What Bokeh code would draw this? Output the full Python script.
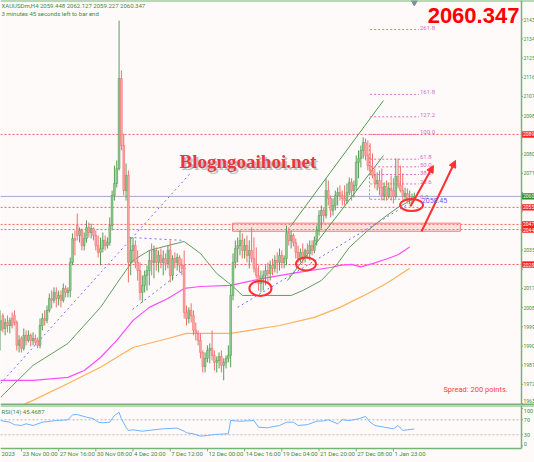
from bokeh.plotting import figure
from bokeh.layouts import column
from bokeh.models import (ColumnDataSource, Span, Label, LabelSet, Range1d, Arrow,
                          NormalHead)
from bokeh.core.properties import value
from bokeh.embed import file_html
from bokeh.resources import INLINE

# ---------------- XAUUSDm H4 candles (bar index 0 .. 178) ----------------
opens = [
    1997.5, 2004.5, 1998.4, 2001.2, 1999.8, 2003.1, 2004.5, 2001.2, 1990.5, 1993.7,
    1989.1, 1995.2, 1992.8, 1995.2, 1992.8, 1993.7, 1992.8, 1990.5, 1999.8, 2003.1,
    2002.2, 2006.9, 2012.5, 2011.6, 2015.3, 2012.5, 2013.9, 2011.6, 2017.2, 2015.3,
    2016.2, 2029.4, 2040.6, 2046.7, 2042.0, 2044.4, 2037.3, 2040.6, 2045.8, 2043.4,
    2045.3, 2042.0, 2037.3, 2034.1, 2035.9, 2039.7, 2037.3, 2038.7, 2046.7, 2060.8,
    2066.4, 2073.4, 2115.6, 2084.2, 2063.1, 2070.2, 2029.4, 2035.0, 2037.3, 2029.4,
    2025.6, 2015.3, 2018.6, 2023.3, 2025.6, 2030.3, 2029.4, 2035.0, 2029.4, 2032.7,
    2029.4, 2031.2, 2028.9, 2035.0, 2023.3, 2031.2, 2029.4, 2031.7, 2028.0, 2028.0,
    2005.9, 2003.1, 2006.9, 2004.5, 1997.5, 1996.1, 1992.8, 1987.2, 1980.6, 1984.4,
    1988.1, 1989.1, 1985.8, 1982.5, 1983.4, 1985.3, 1981.1, 1982.5, 1984.4, 1985.8,
    2013.9, 2029.4, 2035.9, 2037.3, 2039.7, 2035.0, 2037.3, 2032.7, 2035.0, 2031.2,
    2026.6, 2023.3, 2019.5, 2021.9, 2023.3, 2025.6, 2024.2, 2028.0, 2026.6, 2030.3,
    2029.4, 2032.7, 2029.4, 2031.2, 2043.4, 2039.7, 2042.0, 2038.7, 2034.1, 2031.2,
    2034.1, 2032.2, 2035.0, 2033.6, 2037.3, 2035.0, 2039.7, 2044.4, 2051.4, 2053.8,
    2051.4, 2063.1, 2059.4, 2053.8, 2056.1, 2060.8, 2062.2, 2060.8, 2059.4, 2058.4,
    2062.2, 2066.9, 2063.1, 2065.5, 2076.3, 2078.1, 2081.9, 2085.6, 2079.5, 2074.8,
    2072.5, 2070.2, 2066.4, 2067.8, 2064.5, 2060.8, 2065.0, 2060.3, 2064.1, 2063.1,
    2060.3, 2069.7, 2065.5, 2063.1, 2060.3, 2061.7, 2058.4, 2059.4, 2059.448,
]
highs = [
    2006.9, 2005.5, 2003.1, 2004.5, 2003.6, 2005.9, 2006.9, 2002.2, 1995.2, 1994.7,
    1998.4, 1997.5, 1997.5, 1996.1, 1996.6, 1995.6, 1994.2, 2003.1, 2005.5, 2006.9,
    2009.2, 2014.8, 2016.2, 2017.7, 2017.7, 2016.2, 2016.2, 2019.5, 2018.6, 2017.7,
    2031.7, 2043.0, 2044.4, 2052.3, 2045.8, 2045.3, 2043.4, 2049.1, 2048.1, 2047.6,
    2045.8, 2044.4, 2042.0, 2041.1, 2043.4, 2042.0, 2041.1, 2050.5, 2063.1, 2074.8,
    2077.2, 2142.8, 2119.4, 2089.8, 2075.8, 2072.5, 2041.1, 2041.1, 2039.7, 2035.0,
    2029.4, 2023.3, 2025.6, 2028.0, 2035.0, 2038.3, 2037.3, 2036.4, 2035.0, 2035.9,
    2035.0, 2033.6, 2037.3, 2039.7, 2032.7, 2034.1, 2033.6, 2032.7, 2031.2, 2035.0,
    2009.2, 2008.3, 2010.2, 2006.9, 2001.2, 1997.5, 1996.1, 1988.1, 1987.2, 1990.5,
    1991.4, 1997.5, 1988.1, 1985.3, 1987.2, 1988.1, 1984.4, 1985.8, 1990.5, 2018.6,
    2033.6, 2039.7, 2041.1, 2044.4, 2043.0, 2040.6, 2042.0, 2039.7, 2045.8, 2041.1,
    2036.4, 2028.0, 2025.6, 2025.6, 2028.0, 2029.4, 2030.3, 2031.2, 2032.7, 2034.1,
    2035.9, 2035.0, 2032.7, 2046.7, 2045.8, 2044.4, 2043.0, 2040.6, 2037.3, 2035.9,
    2038.3, 2035.9, 2038.3, 2039.7, 2039.7, 2041.6, 2046.7, 2053.8, 2056.1, 2055.2,
    2068.8, 2067.8, 2060.8, 2059.4, 2063.1, 2064.5, 2065.5, 2063.1, 2065.5, 2066.4,
    2069.2, 2068.8, 2067.8, 2079.5, 2081.9, 2084.2, 2088.0, 2087.5, 2086.6, 2085.2,
    2080.5, 2073.4, 2071.6, 2072.5, 2073.4, 2066.9, 2067.8, 2066.9, 2070.2, 2068.8,
    2078.1, 2078.1, 2074.8, 2071.1, 2064.5, 2064.1, 2063.1, 2061.7, 2062.127,
]
lows = [
    1988.1, 1996.6, 1995.2, 1996.6, 1996.1, 1998.4, 1999.8, 1988.1, 1987.2, 1987.2,
    1988.1, 1990.5, 1991.9, 1990.0, 1990.5, 1990.5, 1989.1, 1989.1, 1997.5, 1999.8,
    2000.8, 2005.9, 2007.8, 2010.2, 2008.3, 2009.2, 2008.3, 2010.6, 2013.0, 2013.0,
    2013.0, 2028.0, 2032.7, 2039.7, 2038.7, 2035.0, 2035.0, 2038.7, 2041.1, 2040.6,
    2039.7, 2035.0, 2031.7, 2028.0, 2034.1, 2035.0, 2035.9, 2037.3, 2044.4, 2058.4,
    2064.5, 2072.5, 2081.9, 2060.8, 2058.4, 2020.0, 2023.3, 2029.4, 2026.6, 2020.9,
    2011.6, 2010.6, 2015.3, 2016.2, 2018.6, 2023.3, 2021.9, 2025.6, 2024.7, 2026.6,
    2023.3, 2025.6, 2026.6, 2020.0, 2020.9, 2026.6, 2025.6, 2024.7, 2023.3, 2003.1,
    1999.8, 2000.8, 2001.2, 1995.2, 1992.8, 1990.5, 1984.4, 1977.8, 1977.8, 1982.5,
    1982.0, 1983.4, 1978.7, 1977.8, 1979.7, 1977.8, 1974.1, 1979.7, 1982.5, 1980.2,
    2011.6, 2026.6, 2029.4, 2032.7, 2031.2, 2031.2, 2029.4, 2026.6, 2029.4, 2024.7,
    2021.9, 2016.2, 2015.3, 2016.2, 2018.6, 2020.0, 2020.9, 2023.3, 2024.7, 2024.2,
    2025.6, 2026.6, 2026.6, 2028.0, 2037.3, 2035.9, 2036.9, 2031.2, 2029.4, 2029.4,
    2028.9, 2029.4, 2031.2, 2030.3, 2032.7, 2033.6, 2037.3, 2042.0, 2045.3, 2048.1,
    2050.0, 2056.1, 2050.5, 2051.4, 2053.8, 2056.1, 2058.4, 2056.1, 2056.1, 2057.0,
    2060.8, 2058.4, 2059.8, 2063.1, 2068.8, 2073.9, 2078.1, 2077.2, 2072.5, 2070.2,
    2068.8, 2064.1, 2063.1, 2060.8, 2058.4, 2058.4, 2058.4, 2059.4, 2058.4, 2057.0,
    2059.4, 2064.1, 2062.2, 2059.4, 2058.4, 2057.0, 2056.6, 2057.0, 2059.227,
]
closes = [
    2002.2, 1998.4, 2001.2, 1999.8, 2002.2, 1999.8, 2001.2, 1990.5, 1992.8, 1989.1,
    1995.2, 1992.8, 1995.2, 1992.8, 1993.7, 1991.9, 1990.5, 1999.8, 2003.1, 2002.2,
    2006.9, 2012.5, 2011.6, 2015.3, 2012.5, 2013.9, 2011.6, 2017.2, 2015.3, 2016.2,
    2029.4, 2040.6, 2039.7, 2042.0, 2044.4, 2037.3, 2040.6, 2045.8, 2043.4, 2045.3,
    2042.0, 2037.3, 2034.1, 2035.9, 2039.7, 2037.3, 2038.7, 2046.7, 2060.8, 2066.4,
    2073.4, 2115.6, 2084.2, 2063.1, 2070.2, 2029.4, 2035.0, 2037.3, 2029.4, 2025.6,
    2015.3, 2018.6, 2023.3, 2025.6, 2030.3, 2029.4, 2035.0, 2029.4, 2032.7, 2029.4,
    2031.2, 2028.9, 2035.0, 2023.3, 2031.2, 2029.4, 2031.7, 2028.0, 2026.6, 2005.9,
    2003.1, 2006.9, 2004.5, 1997.5, 1996.1, 1992.8, 1987.2, 1980.6, 1984.4, 1988.1,
    1989.1, 1985.8, 1982.5, 1983.4, 1985.3, 1981.1, 1982.5, 1984.4, 1985.8, 2013.9,
    2029.4, 2035.9, 2037.3, 2039.7, 2035.0, 2037.3, 2032.7, 2035.0, 2031.2, 2026.6,
    2023.3, 2019.5, 2021.9, 2023.3, 2025.6, 2024.2, 2028.0, 2026.6, 2030.3, 2029.4,
    2032.7, 2029.4, 2031.2, 2043.4, 2039.7, 2042.0, 2038.7, 2034.1, 2031.2, 2034.1,
    2032.2, 2035.0, 2033.6, 2037.3, 2035.0, 2039.7, 2044.4, 2051.4, 2053.8, 2051.4,
    2063.1, 2059.4, 2053.8, 2056.1, 2060.8, 2062.2, 2060.8, 2059.4, 2058.4, 2062.2,
    2066.9, 2063.1, 2065.5, 2076.3, 2078.1, 2081.9, 2085.6, 2079.5, 2074.8, 2072.5,
    2070.2, 2066.4, 2067.8, 2064.5, 2060.8, 2065.0, 2060.3, 2064.1, 2063.1, 2060.3,
    2069.7, 2065.5, 2063.1, 2060.3, 2061.7, 2058.4, 2059.4, 2059.45, 2060.347,
]

# ---------------- indicators ----------------
curve_bar = [0, 14, 29, 43, 50, 57, 64, 72, 79, 86, 93, 100, 104, 108, 125, 130,
             138, 145, 150, 158, 165, 171, 178]
curve_val = [1966.1, 1981.1, 1991.4, 2008.3, 2019.5, 2030.3, 2035.0, 2037.3, 2039.2,
             2033.6, 2024.2, 2018.1, 2013.9, 2013.9, 2013.9, 2016.2, 2020.9, 2028.9,
             2036.4, 2044.4, 2050.5, 2055.2, 2059.4]
ma_mid_bar = [0, 14, 29, 36, 43, 50, 57, 64, 72, 79, 86, 99, 113, 128, 142, 146,
              151, 155, 160, 166, 171, 176]
ma_mid_val = [1974.1, 1974.1, 1975.5, 1978.7, 1984.8, 1992.8, 2002.2, 2008.3, 2012.5,
              2017.2, 2018.1, 2018.6, 2021.9, 2024.7, 2027.0, 2028.0, 2028.5, 2027.3,
              2028.8, 2031.0, 2033.0, 2036.6]
ma_slow_bar = [0, 11, 14, 29, 43, 57, 72, 80, 99, 120, 135, 146, 158, 166, 176]
ma_slow_val = [1957.0, 1963.3, 1964.7, 1972.6, 1980.2, 1989.5, 1993.7, 1996.1, 1996.1,
               1999.8, 2003.6, 2008.3, 2014.8, 2019.5, 2026.6]

rsi_bar = [0, 4, 6, 9, 11, 14, 18, 24, 29, 31, 33, 37, 40, 42, 44, 47, 49, 51, 52, 54,
           55, 57, 61, 66, 70, 76, 79, 80, 83, 86, 89, 92, 98, 99, 103, 109, 111, 115,
           116, 120, 123, 126, 128, 132, 136, 139, 141, 145, 147, 150, 154, 157, 159,
           161, 165, 169, 171, 173, 175, 178]
rsi_val = [68, 63.6, 56.7, 54.8, 59.3, 54.8, 63.6, 68, 70, 83.3, 84, 77, 72.7, 63.6, 62,
           63.6, 81.5, 90, 72.7, 50.3, 41.5, 43.3, 39.6, 43.3, 46, 47.7, 39.6, 35.3, 32.7,
           26.3, 28, 30.8, 32.7, 68, 66.3, 68, 50.3, 48.5, 50.3, 54.8, 63.6, 63.6, 54.8,
           57, 66.3, 67, 70, 59.3, 70, 68, 72.7, 78.8, 63.6, 54.8, 50.3, 46, 54.8, 41.5,
           43.3, 45.47]
rsi_last = 45.4687

# ---------------- drawn objects ----------------
level_prices = [2089.4, 2055.2, 2047.2, 2044.8, 2028.4]
zone_bars = [99.8, 197.8]
zone_prices = [2044.0, 2047.8]
fib_low, fib_high = 2059.0, 2089.4
fib_levels = [0.0, 23.6, 38.2, 50.0, 61.8, 100.0, 127.2, 161.8, 261.8]
fib_bars = [159, 180]
fib_anchor_bar = 158.7

channel_up_bar, channel_up_val = [124.7, 164.7], [2046.2, 2105.3]
channel_lo_bar, channel_lo_val = [123.4, 164.7], [2020.9, 2079.5]
trend_lines = [
    ([0, 82], [1972.6, 2071.6]),
    ([55.5, 79], [2041.1, 2039.7]),
    ([56.8, 79.6], [2007.3, 2026.6]),
    ([102, 178], [2008.3, 2058.5]),
]
trend_tag_bar, trend_tag_price, trend_tag_text = 181.2, 2058.6, "2058.45"
circled_bar = [111.8, 131.4, 176.8]
circled_price = [2017.2, 2028.7, 2056.3]
arrow_from = [(181.1, 2043.9), (176.3, 2055.6)]
arrow_to = [(195.7, 2077.2), (186.2, 2074.8)]

price_ticks = [2143.2, 2134.2, 2125.2, 2116.2, 2107.2, 2098.2, 2089.2, 2080.2, 2071.2,
               2062.2, 2053.2, 2044.2, 2035.2, 2026.2, 2017.2, 2008.2, 1999.2, 1990.2,
               1981.2, 1972.2, 1963.2]
date_ticks = [9, 25, 41, 57, 73, 89, 105, 121, 137, 153, 169]
date_labels = ["23 Nov 00:00", "27 Nov 16:00", "30 Nov 08:00", "4 Dec 20:00",
               "7 Dec 12:00", "12 Dec 00:00", "14 Dec 16:00", "19 Dec 04:00",
               "21 Dec 20:00", "27 Dec 08:00", "1 Jan 23:00"]
first_date_text = "2023"
rsi_ticks = [100, 70, 30, 0]

# ---------------- geometry / styling ----------------
BG = "#fffafa"
FRAME = "#74b474"
AXTXT = "#3d8d3d"
RED = "#ff3030"
FONT_NAME = "Roboto"
FONT = value(FONT_NAME)

PX_PER_BAR = 2.325
X_END = 534 / PX_PER_BAR          # frame spans the full window width
AX = 521 / PX_PER_BAR             # price scale line
TICK = 1.5 / PX_PER_BAR
Y_MIN, Y_MAX = 1962.3, 2152.2

X_RANGE = Range1d(0, X_END)

p = figure(width=534, height=405, x_range=X_RANGE, y_range=Range1d(Y_MIN, Y_MAX),
           x_axis_location=None, y_axis_location=None,
           output_backend="svg", toolbar_location=None,
           min_border=0, background_fill_color=BG, border_fill_color=BG,
           outline_line_color=None)
p.grid.visible = False

# frame lines
p.add_layout(Span(location=Y_MAX, dimension="width", line_color=FRAME, line_width=2))
p.add_layout(Span(location=Y_MIN, dimension="width", line_color=FRAME, line_width=4))
p.add_layout(Span(location=AX, dimension="height", line_color=FRAME, line_width=1.5))

# horizontal levels and current bid line
p.segment(x0=[0] * len(level_prices), x1=[AX] * len(level_prices), y0=level_prices,
          y1=level_prices, line_color="#ff5c5c", line_dash="2 2", line_width=1)
p.segment(x0=[0], x1=[AX], y0=[closes[-1]], y1=[closes[-1]], line_color="#a3a8c6",
          line_width=1)

# support zone
p.quad(left=[zone_bars[0]], right=[zone_bars[1]], bottom=[zone_prices[0]],
       top=[zone_prices[1]], fill_color="#ff8c8c", fill_alpha=0.22,
       line_color="#ff7a7a", line_width=1)

# moving averages / curve
p.line(ma_slow_bar, ma_slow_val, line_color="#ffb05a", line_width=1.2)
p.line(ma_mid_bar, ma_mid_val, line_color="#ff4cff", line_width=1.2)
p.line(curve_bar, curve_val, line_color="#5e9e5e", line_width=1)

# trend lines and channel
for xs, ys in trend_lines:
    p.line(xs, ys, line_color="#6f6fff", line_dash="2 3", line_width=1)
p.line(channel_up_bar, channel_up_val, line_color="#4f9a4f", line_width=1)
p.line(channel_lo_bar, channel_lo_val, line_color="#4f9a4f", line_width=1)

# fibonacci levels
fib_prices = [fib_low + (fib_high - fib_low) * lv / 100.0 for lv in fib_levels]
p.segment(x0=[fib_bars[0]] * len(fib_prices), x1=[fib_bars[1]] * len(fib_prices),
          y0=fib_prices, y1=fib_prices, line_color="#e36ad2", line_dash="2 2",
          line_width=1)
p.segment(x0=[fib_anchor_bar], x1=[fib_anchor_bar], y0=[fib_prices[0]],
          y1=[fib_high - 4.0], line_color="#e36ad2", line_dash="2 2", line_width=1)
fib_src = ColumnDataSource(dict(x=[fib_bars[1]] * len(fib_prices), y=fib_prices,
                                t=["%.1f" % lv for lv in fib_levels]))
p.add_layout(LabelSet(x="x", y="y", text="t", source=fib_src, x_offset=1, y_offset=2,
                      text_font=FONT, text_font_size="6px", text_color="#d66cc6",
                      text_align="left", text_baseline="middle"))

# candles
n = min(len(opens), len(highs), len(lows), len(closes))


def candle_source(rising):
    d = dict(x=[], o=[], h=[], l=[], c=[], top=[], bottom=[])
    for i in range(n):
        if (closes[i] >= opens[i]) != rising:
            continue
        top, bot = max(opens[i], closes[i]), min(opens[i], closes[i])
        if top - bot < 0.4:
            top, bot = top + 0.2, bot - 0.2
        d["x"].append(i); d["o"].append(opens[i]); d["h"].append(highs[i])
        d["l"].append(lows[i]); d["c"].append(closes[i])
        d["top"].append(top); d["bottom"].append(bot)
    return ColumnDataSource(d)


for rising, wick, body in [(True, "#549e54", "#98cd98"), (False, "#f26e6e", "#f8aaaa")]:
    src = candle_source(rising)
    p.segment(x0="x", y0="l", x1="x", y1="h", source=src, line_color=wick, line_width=1)
    p.vbar(x="x", top="top", bottom="bottom", width=0.75, source=src,
           fill_color=body, line_color=wick, line_width=0.6)

# marked lows
p.ellipse(x=circled_bar, y=circled_price, width=[9.5, 8.6, 9.9], height=[7.0, 6.1, 5.6],
          fill_color=None, line_color=RED, line_width=2)

# arrows
for (x0, y0), (x1, y1) in zip(arrow_from, arrow_to):
    p.add_layout(Arrow(end=NormalHead(size=7, fill_color=RED, line_color=RED),
                       x_start=x0, y_start=y0, x_end=x1, y_end=y1,
                       line_color=RED, line_width=2))

# chart shift marker
p.scatter(x=[n - 1], y=[2151.3], marker="inverted_triangle", size=6, color="#7d8ca4")

# price scale: ticks, labels and level tags
boxed = level_prices + [closes[-1]]
p.segment(x0=[AX] * len(price_ticks), x1=[AX + TICK] * len(price_ticks),
          y0=price_ticks, y1=price_ticks, line_color=FRAME, line_width=1)
shown = [v for v in price_ticks if min(abs(v - b) for b in boxed) > 3.5]
inner = [v for v in shown if v - Y_MIN > 2.5]
edge = [v for v in shown if v - Y_MIN <= 2.5]
p.text(x=[AX + TICK] * len(inner), y=inner, text=["%d" % round(v) for v in inner],
       x_offset=0.5, text_font=FONT, text_font_size="5px", text_color=AXTXT,
       text_align="left", text_baseline="middle")
p.text(x=[AX + TICK] * len(edge), y=edge, text=["%d" % round(v) for v in edge],
       x_offset=0.5, y_offset=-1, text_font=FONT, text_font_size="5px",
       text_color=AXTXT, text_align="left", text_baseline="bottom")
box_fill = ["#ff1f1f"] * len(level_prices) + ["#2c8a2c"]
p.quad(left=[AX] * len(boxed), right=[X_END] * len(boxed),
       bottom=[b - 1.5 for b in boxed], top=[b + 1.5 for b in boxed],
       fill_color=box_fill, line_color=None)
p.text(x=[AX] * len(boxed), y=boxed, text=["%d" % int(b) for b in boxed], x_offset=1.5,
       text_font=FONT, text_font_size="5px", text_color="white",
       text_align="left", text_baseline="middle")

# texts
p.add_layout(Label(x=trend_tag_bar, y=trend_tag_price, text=trend_tag_text,
                   text_font=FONT_NAME, text_font_size="7px", text_color="#5a5aff",
                   text_baseline="middle"))
p.add_layout(Label(x=0, y=2149.9, x_offset=1,
                   text="XAUUSDm,H4  2059.448 2062.127 2059.227 2060.347",
                   text_font=FONT_NAME, text_font_size="6px", text_color=AXTXT,
                   text_baseline="middle"))
p.add_layout(Label(x=0, y=2146.0, x_offset=1, text="3 minutes 45 seconds left to bar end",
                   text_font=FONT_NAME, text_font_size="6px", text_color=AXTXT,
                   text_baseline="middle"))
p.add_layout(Label(x=77.0, y=2071.6, text="Blogngoaihoi.net", x_offset=2, y_offset=-2,
                   text_font="Liberation Serif", text_font_style="bold",
                   text_font_size="19px", text_color="#a8a8a8", text_alpha=0.7))
p.add_layout(Label(x=77.0, y=2071.6, text="Blogngoaihoi.net",
                   text_font="Liberation Serif", text_font_style="bold",
                   text_font_size="19px", text_color="#e8383c"))
p.add_layout(Label(x=AX - 0.9, y=2145.4, text="%.3f" % closes[-1], text_align="right",
                   text_baseline="middle", text_font="Liberation Sans",
                   text_font_style="bold", text_font_size="22px", text_color="#ff0000"))
p.add_layout(Label(x=190.5, y=1969.8, text="Spread: 200 points.", text_baseline="middle",
                   text_font=FONT_NAME, text_font_size="7.5px", text_color="#ff3c3c"))

# ---------------- RSI panel with the time scale beneath ----------------
RSI_TOP, RSI_BOTTOM = 108.1, -6.5
r = figure(width=534, height=57, x_range=X_RANGE, y_range=Range1d(-43.9, RSI_TOP),
           x_axis_location=None, y_axis_location=None,
           output_backend="svg", toolbar_location=None,
           min_border=0, background_fill_color=BG, border_fill_color=BG,
           outline_line_color=None)
r.grid.visible = False

r.add_layout(Span(location=RSI_TOP, dimension="width", line_color=FRAME, line_width=2))
r.segment(x0=[0], x1=[AX], y0=[RSI_BOTTOM], y1=[RSI_BOTTOM], line_color=FRAME,
          line_width=1.5)
r.segment(x0=[AX], x1=[AX], y0=[RSI_BOTTOM], y1=[RSI_TOP], line_color=FRAME,
          line_width=1.5)
r.segment(x0=[0, 0], x1=[AX, AX], y0=[70, 30], y1=[70, 30], line_color="#b9b9b9",
          line_dash="2 2", line_width=1)
r.line(rsi_bar, rsi_val, line_color="#6fb2ff", line_width=1)
r.add_layout(Label(x=0, y=92.1, x_offset=1, text="RSI(14) %.4f" % rsi_last,
                   text_font=FONT_NAME, text_font_size="6px", text_color=AXTXT,
                   text_baseline="middle"))

# RSI scale
r.segment(x0=[AX] * len(rsi_ticks), x1=[AX + TICK] * len(rsi_ticks), y0=rsi_ticks,
          y1=rsi_ticks, line_color=FRAME, line_width=1)
rsi_baselines = ["top", "middle", "middle", "bottom"]
for tv, bl in zip(rsi_ticks, rsi_baselines):
    r.text(x=[AX + TICK], y=[tv], text=[str(tv)], x_offset=0.8, text_font=FONT,
           text_font_size="5.5px", text_color=AXTXT, text_align="left",
           text_baseline=bl)

# time scale
r.segment(x0=date_ticks, x1=date_ticks, y0=[RSI_BOTTOM] * len(date_ticks),
          y1=[-14.5] * len(date_ticks), line_color=FRAME, line_width=1)
r.text(x=date_ticks, y=[-19.9] * len(date_ticks), text=date_labels, x_offset=1,
       text_font=FONT, text_font_size="6px", text_color=AXTXT, text_align="left",
       text_baseline="middle")
r.text(x=[0], y=[-19.9], text=[first_date_text], x_offset=1, text_font=FONT,
       text_font_size="6px", text_color=AXTXT, text_align="left",
       text_baseline="middle")

layout = column(p, r, spacing=0)
open("out.html", "w").write(file_html(layout, INLINE))
